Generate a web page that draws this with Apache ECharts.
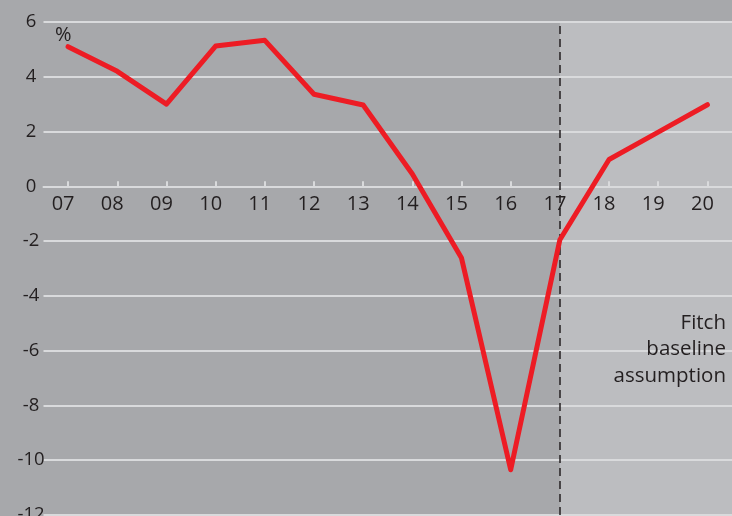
<!DOCTYPE html>
<html><head><meta charset="utf-8">
<script src="https://cdn.jsdelivr.net/npm/echarts@6/dist/echarts.min.js"></script>
<style>html,body{margin:0;padding:0;background:#a7a8ab;}#c{width:732px;height:516px;}</style>
</head><body><div id="c"></div>
<script>
const categories = ['07','08','09','10','11','12','13','14','15','16','17','18','19','20'];
const growth = [5.1, 4.2, 3.0, 5.12, 5.33, 3.36, 2.97, 0.45, -2.62, -10.35, -1.95, 0.98, 1.98, 2.98];
const forecastStart = '17';
const yTicks = [-12, -10, -8, -6, -4, -2, 0, 2, 4, 6];
const unitLabel = '%';
const noteLines = ['Fitch', 'baseline', 'assumption'];

const FONT = '"Open Sans", Lato, sans-serif';
const chart = echarts.init(document.getElementById('c'), null, {renderer:'canvas'});
const gridCfg = {left: 43.5, right: 0, top: 22, bottom: 1, containLabel: false, outerBoundsMode: 'none'};
const option = {
  backgroundColor: '#a7a8ab',
  animation: false,
  grid: gridCfg,
  xAxis: [{
    type: 'category', data: categories, boundaryGap: true,
    axisLine: {onZero: true, lineStyle: {color: '#d9dadc', width: 2}},
    axisTick: {show: true, inside: true, length: 5, alignWithLabel: true, lineStyle: {color: '#d9dadc', width: 2}},
    axisLabel: {show: false},
    splitLine: {show: false}, z: 3
  }, {
    type: 'category', data: categories, boundaryGap: true, position: 'top', offset: 0,
    axisLine: {show: false, onZero: false}, axisTick: {show: false}, splitLine: {show: false},
    axisLabel: {show: true, inside: true, color: '#231f20', fontSize: 20, fontFamily: FONT, margin: 8, padding: [0, 10, 0, 0], align: 'center', verticalAlign: 'top'}
  }],
  yAxis: {
    type: 'value', min: yTicks[0], max: yTicks[yTicks.length-1], interval: 2,
    axisLine: {show: false}, axisTick: {show: false},
    axisLabel: {color: '#231f20', fontSize: 18.5, fontFamily: FONT, margin: 12.5, align: 'center'},
    splitLine: {lineStyle: {color: '#d9dadc', width: 2}}
  },
  series: [{
    type: 'line', data: growth, symbol: 'none', z: 5,
    lineStyle: {color: '#ed1c24', width: 5, cap: 'round', join: 'round'},
    markLine: {
      silent: true, symbol: 'none', label: {show: false},
      lineStyle: {color: '#231f20', width: 1.5, type: [8, 5]},
      data: [{xAxis: forecastStart}]
    }
  }]
};
chart.setOption(option);
const x0 = chart.convertToPixel({xAxisIndex: 0}, forecastStart);
const yTop = chart.convertToPixel({yAxisIndex: 0}, yTicks[yTicks.length-1]);
const yZero = chart.convertToPixel({yAxisIndex: 0}, 0);
chart.setOption({
  xAxis: [{}, {offset: -(yZero - yTop)}],
  graphic: [
    {type: 'rect', z: -10, silent: true, shape: {x: x0, y: yTop, width: 732 - x0, height: 516 - yTop}, style: {fill: '#bcbdc0'}},
    {type: 'text', z: 10, x: 55, y: 25, style: {text: unitLabel, fill: '#231f20', font: '20px ' + FONT}},
    {type: 'text', z: 10, x: 726, y: 312.5, style: {text: noteLines[0], fill: '#231f20', font: '20.5px ' + FONT, align: 'right', verticalAlign: 'top'}},
    {type: 'text', z: 10, x: 726, y: 339, style: {text: noteLines[1], fill: '#231f20', font: '20.5px ' + FONT, align: 'right', verticalAlign: 'top'}},
    {type: 'text', z: 10, x: 726, y: 365.5, style: {text: noteLines[2], fill: '#231f20', font: '20.5px ' + FONT, align: 'right', verticalAlign: 'top'}}
  ]
});
</script>
</body></html>
